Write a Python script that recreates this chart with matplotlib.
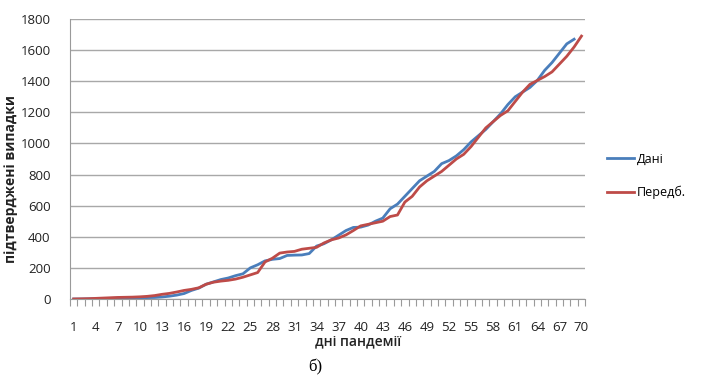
import matplotlib.pyplot as plt
import numpy as np

# cumulative confirmed cases by pandemic day
days = list(range(1, 71))
actual = [0, 0, 1, 2, 3, 4, 5, 6, 7, 8,
          9, 10, 13, 18, 25, 35, 55, 70, 95, 110,
          125, 135, 150, 162, 200, 220, 245, 255, 260, 280,
          282, 283, 292, 340, 355, 380, 410, 440, 460, 462,
          475, 500, 520, 580, 610, 660, 710, 760, 790, 820,
          870, 890, 920, 960, 1010, 1050, 1090, 1140, 1190, 1250,
          1300, 1330, 1360, 1405, 1470, 1520, 1580, 1640, 1670]
predicted = [0, 1, 2, 4, 6, 8, 10, 11, 12, 14,
             17, 22, 30, 36, 45, 55, 62, 72, 95, 108,
             115, 120, 128, 140, 155, 170, 238, 262, 295, 302,
             306, 320, 326, 332, 360, 380, 392, 412, 440, 470,
             480, 490, 500, 530, 540, 623, 660, 720, 760, 790,
             820, 860, 900, 930, 980, 1040, 1100, 1140, 1180, 1210,
             1270, 1330, 1380, 1405, 1430, 1460, 1510, 1560, 1620, 1690]

y_ticks = list(range(0, 1801, 200))
x_ticks = list(range(1, 71, 3))

plt.rcParams['font.family'] = ['Open Sans', 'DejaVu Sans']

fig = plt.figure(figsize=(7.05, 3.82), dpi=100)
ax = fig.add_axes([0.0993, 0.2173, 0.7307, 0.733])

ax.plot(days[:len(actual)], actual, color='#4a7ebb', linewidth=2.0, label='Дані')
ax.plot(days, predicted, color='#be4b48', linewidth=2.0, label='Передб.')

ax.set_xlim(0.5, 70.5)
ax.set_ylim(0, 1800)
ax.set_yticks(y_ticks)
ax.set_xticks(x_ticks)
ax.set_xticks(np.arange(0.5, 71, 1), minor=True)
ax.tick_params(axis='x', which='major', length=0, pad=16, labelsize=9.5, colors='#222222')
ax.tick_params(axis='x', which='minor', length=5, width=0.8, color='#9a9a9a', direction='out')
ax.tick_params(axis='y', length=0, pad=14, labelsize=9.5, colors='#222222')

ax.grid(axis='y', color='#a8a8a8', linewidth=1.0)
ax.set_axisbelow(True)
for side in ['top', 'right']:
    ax.spines[side].set_visible(False)
ax.spines['left'].set_color('#9a9a9a')
ax.spines['bottom'].set_color('#9a9a9a')

ax.set_xlabel('дні пандемії', fontsize=10, fontweight='semibold', color='#222222')
ax.xaxis.set_label_coords(0.56, -0.125)
ax.set_ylabel('підтверджені випадки', fontsize=10, fontweight='bold', color='#222222')
ax.yaxis.set_label_coords(-0.101, 0.43)

ax.legend(loc='center left', bbox_to_anchor=(1.02, 0.44), frameon=False, fontsize=9,
          handlelength=2.2, labelspacing=1.6, handletextpad=0.2)

fig.text(0.447, 0.039, 'б)', fontsize=12, family='Liberation Serif', ha='center', va='center')

fig.savefig('out.png', dpi=100)
